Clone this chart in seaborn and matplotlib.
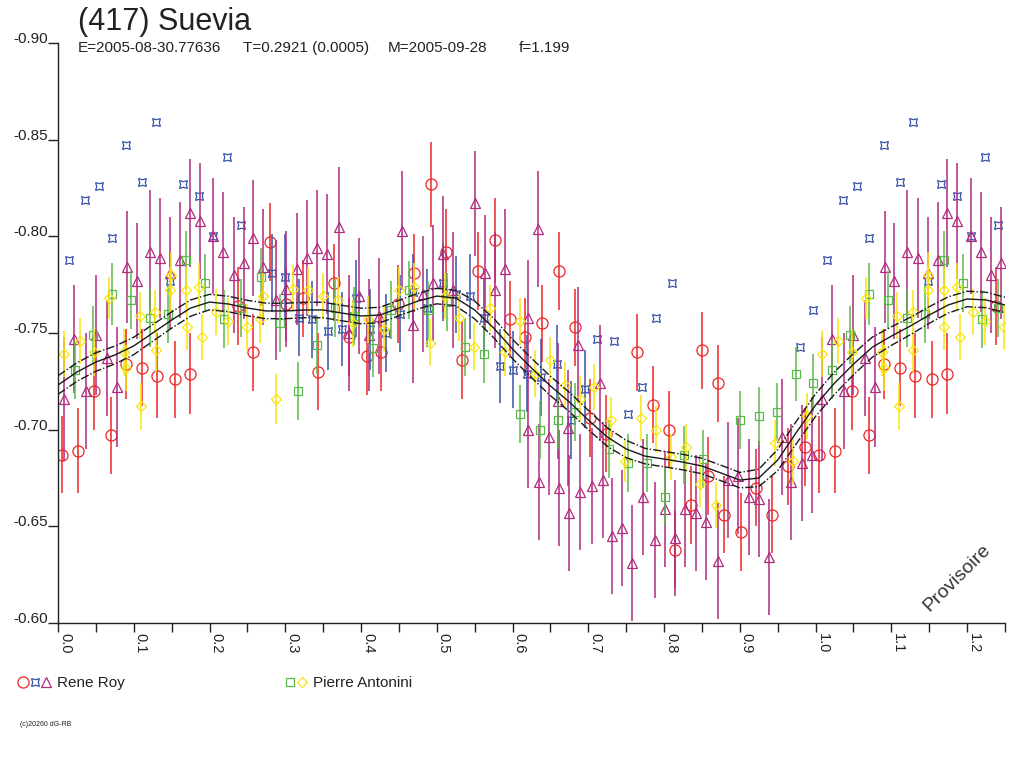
import numpy as np
import pandas as pd
import matplotlib
matplotlib.use('Agg')
import matplotlib.pyplot as plt
import seaborn as sns
from matplotlib.ticker import MultipleLocator, FormatStrFormatter
from matplotlib.lines import Line2D
from matplotlib.legend_handler import HandlerTuple

# --- Rene Roy, red circles
roy_o_phase = [0.005, 0.026, 0.048, 0.070, 0.090, 0.111, 0.131, 0.154, 0.174, 0.238,
               0.257, 0.280, 0.301, 0.323, 0.343, 0.364, 0.384, 0.408, 0.427, 0.449,
               0.470, 0.492, 0.512, 0.533, 0.554, 0.577, 0.596, 0.617, 0.639, 0.661,
               0.682, 0.702, 0.723, 0.764, 0.786, 0.807, 0.815, 0.836, 0.850, 0.858,
               0.871, 0.879, 0.901, 0.921, 0.942, 0.963, 0.986]
roy_o_mag = [-0.687, -0.689, -0.720, -0.697, -0.734, -0.732, -0.728, -0.726, -0.729, -0.764,
             -0.740, -0.797, -0.765, -0.768, -0.730, -0.776, -0.748, -0.738, -0.740, -0.765,
             -0.781, -0.827, -0.792, -0.736, -0.782, -0.798, -0.757, -0.748, -0.755, -0.782,
             -0.753, -0.706, -0.698, -0.740, -0.713, -0.700, -0.638, -0.661, -0.741, -0.676,
             -0.724, -0.656, -0.647, -0.670, -0.656, -0.681, -0.691]
roy_o_err = [0.020, 0.022, 0.020, 0.020, 0.018, 0.020, 0.022, 0.020, 0.021, 0.020,
             0.020, 0.020, 0.019, 0.020, 0.020, 0.020, 0.020, 0.020, 0.020, 0.020,
             0.020, 0.022, 0.022, 0.020, 0.020, 0.022, 0.020, 0.020, 0.020, 0.020,
             0.020, 0.020, 0.020, 0.020, 0.020, 0.020, 0.020, 0.020, 0.020, 0.020,
             0.020, 0.020, 0.020, 0.020, 0.020, 0.020, 0.020]

# --- Rene Roy, blue stars
roy_s_phase = [0.015, 0.036, 0.054, 0.071, 0.090, 0.111, 0.129, 0.148, 0.165, 0.186,
               0.205, 0.223, 0.241, 0.282, 0.300, 0.318, 0.335, 0.356, 0.375, 0.393,
               0.412, 0.433, 0.451, 0.468, 0.487, 0.508, 0.526, 0.544, 0.562, 0.583,
               0.600, 0.619, 0.637, 0.658, 0.677, 0.695, 0.712, 0.734, 0.752, 0.771,
               0.789, 0.810, 0.979, 0.996]
roy_s_mag = [-0.788, -0.819, -0.826, -0.799, -0.847, -0.828, -0.859, -0.777, -0.827, -0.821,
             -0.800, -0.841, -0.806, -0.781, -0.779, -0.758, -0.757, -0.751, -0.752, -0.768,
             -0.752, -0.750, -0.760, -0.771, -0.763, -0.776, -0.770, -0.769, -0.758, -0.733,
             -0.731, -0.729, -0.727, -0.734, -0.705, -0.721, -0.747, -0.746, -0.708, -0.722,
             -0.758, -0.776, -0.743, -0.762]
roy_s_err = [0.0, 0.0, 0.0, 0.0, 0.0, 0.0, 0.0, 0.0, 0.0, 0.0,
             0.0, 0.0, 0.0, 0.020, 0.022, 0.020, 0.020, 0.020, 0.019, 0.020,
             0.021, 0.020, 0.020, 0.020, 0.020, 0.020, 0.020, 0.022, 0.020, 0.019,
             0.020, 0.020, 0.020, 0.020, 0.020, 0.020, 0.0, 0.0, 0.0, 0.0,
             0.0, 0.0, 0.0, 0.0]

# --- Rene Roy, purple triangles
roy_t_phase = [0.008, 0.021, 0.037, 0.050, 0.065, 0.078, 0.091, 0.104, 0.121, 0.135,
               0.148, 0.161, 0.174, 0.187, 0.205, 0.218, 0.232, 0.245, 0.257, 0.270,
               0.288, 0.301, 0.315, 0.329, 0.342, 0.355, 0.371, 0.384, 0.397, 0.410,
               0.424, 0.454, 0.468, 0.482, 0.495, 0.508, 0.521, 0.550, 0.563, 0.577,
               0.590, 0.620, 0.621, 0.633, 0.635, 0.648, 0.661, 0.660, 0.673, 0.674,
               0.687, 0.689, 0.705, 0.716, 0.719, 0.731, 0.744, 0.757, 0.772, 0.788,
               0.801, 0.814, 0.827, 0.842, 0.855, 0.871, 0.885, 0.898, 0.912, 0.925,
               0.938, 0.955, 0.968, 0.982, 0.995]
roy_t_mag = [-0.716, -0.747, -0.720, -0.749, -0.737, -0.722, -0.784, -0.777, -0.792, -0.789,
             -0.781, -0.788, -0.812, -0.808, -0.800, -0.792, -0.780, -0.786, -0.799, -0.784,
             -0.767, -0.773, -0.783, -0.789, -0.794, -0.791, -0.805, -0.750, -0.769, -0.749,
             -0.759, -0.803, -0.754, -0.770, -0.776, -0.791, -0.772, -0.817, -0.781, -0.772,
             -0.783, -0.758, -0.700, -0.804, -0.673, -0.696, -0.670, -0.715, -0.701, -0.657,
             -0.744, -0.668, -0.671, -0.724, -0.674, -0.645, -0.649, -0.631, -0.665, -0.643,
             -0.659, -0.644, -0.659, -0.657, -0.652, -0.632, -0.674, -0.676, -0.665, -0.664,
             -0.634, -0.696, -0.673, -0.683, -0.687]
roy_t_err = [0.032, 0.028, 0.030, 0.031, 0.030, 0.031, 0.029, 0.030, 0.032, 0.031,
             0.029, 0.030, 0.028, 0.030, 0.030, 0.031, 0.030, 0.029, 0.030, 0.030,
             0.031, 0.030, 0.029, 0.030, 0.030, 0.031, 0.031, 0.030, 0.030, 0.029,
             0.030, 0.031, 0.030, 0.030, 0.030, 0.030, 0.030, 0.027, 0.030, 0.030,
             0.031, 0.030, 0.030, 0.030, 0.030, 0.030, 0.030, 0.030, 0.030, 0.030,
             0.030, 0.030, 0.030, 0.030, 0.030, 0.030, 0.030, 0.030, 0.030, 0.030,
             0.030, 0.030, 0.030, 0.030, 0.030, 0.030, 0.030, 0.030, 0.030, 0.030,
             0.030, 0.030, 0.030, 0.030, 0.030]

# --- Pierre Antonini, green squares
ant_q_phase = [0.022, 0.046, 0.071, 0.096, 0.121, 0.145, 0.169, 0.194, 0.219, 0.241,
               0.268, 0.293, 0.317, 0.342, 0.365, 0.391, 0.416, 0.439, 0.463, 0.489,
               0.513, 0.537, 0.562, 0.610, 0.636, 0.660, 0.683, 0.727, 0.753, 0.777,
               0.801, 0.826, 0.851, 0.900, 0.925, 0.949, 0.974, 0.997]
ant_q_mag = [-0.731, -0.749, -0.770, -0.767, -0.758, -0.760, -0.788, -0.776, -0.757, -0.763,
             -0.779, -0.755, -0.720, -0.744, -0.763, -0.759, -0.742, -0.762, -0.772, -0.762,
             -0.766, -0.743, -0.739, -0.708, -0.700, -0.705, -0.709, -0.690, -0.683, -0.683,
             -0.665, -0.687, -0.685, -0.705, -0.707, -0.709, -0.729, -0.724]
ant_q_err = [0.015, 0.015, 0.016, 0.015, 0.015, 0.015, 0.015, 0.015, 0.015, 0.015,
             0.015, 0.015, 0.015, 0.015, 0.015, 0.015, 0.015, 0.015, 0.015, 0.015,
             0.015, 0.015, 0.015, 0.015, 0.015, 0.015, 0.015, 0.015, 0.015, 0.015,
             0.015, 0.015, 0.015, 0.015, 0.015, 0.015, 0.014, 0.015]

# --- Pierre Antonini, yellow diamonds
ant_d_phase = [0.008, 0.029, 0.048, 0.067, 0.087, 0.090, 0.108, 0.110, 0.128, 0.129,
               0.148, 0.149, 0.169, 0.170, 0.186, 0.190, 0.208, 0.224, 0.249, 0.267,
               0.270, 0.288, 0.310, 0.330, 0.350, 0.369, 0.389, 0.409, 0.430, 0.450,
               0.470, 0.491, 0.511, 0.529, 0.549, 0.570, 0.590, 0.610, 0.629, 0.649,
               0.669, 0.689, 0.708, 0.730, 0.749, 0.769, 0.789, 0.809, 0.829, 0.848,
               0.868, 0.947, 0.970, 0.989]
ant_d_mag = [-0.739, -0.746, -0.740, -0.768, -0.740, -0.732, -0.759, -0.712, -0.761, -0.741,
             -0.772, -0.780, -0.772, -0.753, -0.774, -0.748, -0.761, -0.756, -0.753, -0.757,
             -0.769, -0.716, -0.773, -0.772, -0.769, -0.767, -0.755, -0.757, -0.752, -0.772,
             -0.774, -0.745, -0.769, -0.758, -0.743, -0.763, -0.740, -0.756, -0.729, -0.736,
             -0.723, -0.716, -0.722, -0.705, -0.684, -0.706, -0.700, -0.686, -0.691, -0.672,
             -0.661, -0.693, -0.684, -0.707]
ant_d_err = [0.012, 0.012, 0.012, 0.011, 0.012, 0.012, 0.012, 0.012, 0.011, 0.011,
             0.012, 0.012, 0.012, 0.012, 0.012, 0.012, 0.012, 0.012, 0.012, 0.012,
             0.012, 0.013, 0.012, 0.012, 0.012, 0.012, 0.012, 0.012, 0.012, 0.012,
             0.012, 0.012, 0.012, 0.012, 0.012, 0.012, 0.012, 0.012, 0.012, 0.012,
             0.012, 0.012, 0.012, 0.012, 0.011, 0.012, 0.012, 0.012, 0.012, 0.012,
             0.012, 0.012, 0.012, 0.012]

# --- fitted light curve and its envelope half-width
fit_phase = [0.000, 0.025, 0.050, 0.075, 0.100, 0.125, 0.150, 0.175, 0.200, 0.225,
             0.250, 0.275, 0.300, 0.325, 0.350, 0.375, 0.400, 0.425, 0.450, 0.475,
             0.500, 0.525, 0.550, 0.575, 0.600, 0.625, 0.650, 0.675, 0.700, 0.725,
             0.750, 0.775, 0.800, 0.825, 0.850, 0.875, 0.900, 0.925, 0.950, 0.975,
             1.000, 1.025, 1.050, 1.075, 1.100, 1.125, 1.150, 1.175, 1.200, 1.225, 1.250]
fit_mag = [-0.7231, -0.7298, -0.7350, -0.7386, -0.7433, -0.7500, -0.7567, -0.7629, -0.7660, -0.7650,
           -0.7629, -0.7614, -0.7614, -0.7619, -0.7619, -0.7603, -0.7588, -0.7593, -0.7629, -0.7665,
           -0.7691, -0.7681, -0.7619, -0.7526, -0.7417, -0.7319, -0.7226, -0.7143, -0.7050, -0.6962,
           -0.6900, -0.6863, -0.6848, -0.6832, -0.6812, -0.6776, -0.6739, -0.6750, -0.6843, -0.6988,
           -0.7127, -0.7241, -0.7339, -0.7427, -0.7484, -0.7536, -0.7593, -0.7645, -0.7676, -0.7671, -0.7645]
fit_sig = [0.0048, 0.0048, 0.0048, 0.0046, 0.0045, 0.0043, 0.0042, 0.0042, 0.0040, 0.0040,
           0.0040, 0.0040, 0.0040, 0.0040, 0.0040, 0.0040, 0.0040, 0.0040, 0.0040, 0.0040,
           0.0040, 0.0040, 0.0046, 0.0050, 0.0050, 0.0050, 0.0050, 0.0050, 0.0050, 0.0048,
           0.0045, 0.0040, 0.0040, 0.0040, 0.0040, 0.0040, 0.0040, 0.0045, 0.0055, 0.0058,
           0.0058, 0.0058, 0.0055, 0.0052, 0.0048, 0.0045, 0.0043, 0.0042, 0.0040, 0.0040, 0.0040]

title = '(417) Suevia'
info = ['E=2005-08-30.77636', 'T=0.2921 (0.0005)', 'M=2005-09-28', 'f=1.199']
observers = ['Rene Roy', 'Pierre Antonini']

RED, BLUE, PURPLE, GREEN, YELLOW = '#ee2626', '#3a52a8', '#b02a7e', '#5cb84c', '#f8e60a'
STAR = (4, 1, 45)

sns.set_theme(style='white')
plt.rcParams['font.family'] = ['Liberation Sans', 'DejaVu Sans']
plt.rcParams['axes.unicode_minus'] = False
plt.rcParams['text.color'] = '#222222'


def wrap(ph, mag, err):
    df = pd.DataFrame({'phase': ph, 'mag': mag, 'err': err})
    extra = df[df.phase < 0.25].copy()
    extra['phase'] += 1.0
    return pd.concat([df, extra], ignore_index=True)


fig = plt.figure(figsize=(10.24, 7.68), dpi=100)
ax = fig.add_axes([58 / 1024, 1 - 623 / 768, 947 / 1024, 580 / 768])

series = [
    (roy_o_phase, roy_o_mag, roy_o_err, 'o', 8, RED),
    (roy_s_phase, roy_s_mag, roy_s_err, STAR, 8, BLUE),
    (roy_t_phase, roy_t_mag, roy_t_err, '^', 7, PURPLE),
    (ant_q_phase, ant_q_mag, ant_q_err, 's', 5.5, GREEN),
    (ant_d_phase, ant_d_mag, ant_d_err, 'D', 5.6, YELLOW),
]
for ph, mg, er, mk, ms, col in series:
    d = wrap(ph, mg, er)
    ax.errorbar(d.phase, d.mag, yerr=d.err, fmt='none', ecolor=col, elinewidth=1.1, capsize=0)
    ax.plot(d.phase, d.mag, ls='none', marker=mk, ms=ms, mfc='none', mec=col, mew=0.9)

fit = pd.DataFrame({'phase': fit_phase, 'mag': fit_mag, 'sig': fit_sig})
fit['lo'] = fit['mag'] - fit['sig']
fit['hi'] = fit['mag'] + fit['sig']
sns.lineplot(data=fit, x='phase', y='mag', color='#1a1a1a', lw=1.0, ax=ax, zorder=6)
for col in ['lo', 'hi']:
    sns.lineplot(data=fit, x='phase', y=col, color='#1a1a1a', lw=1.0,
                 linestyle=(0, (6, 1.5, 1, 1.5)), ax=ax, zorder=6)

ax.set_xlim(0, 1.25)
ax.set_ylim(-0.60, -0.90)
ax.set_xlabel('')
ax.set_ylabel('')
ax.xaxis.set_major_locator(MultipleLocator(0.1))
ax.xaxis.set_minor_locator(MultipleLocator(0.05))
ax.xaxis.set_major_formatter(FormatStrFormatter('%.1f'))
ax.yaxis.set_major_locator(MultipleLocator(0.05))
ax.yaxis.set_major_formatter(FormatStrFormatter('%.2f'))
sns.despine(ax=ax)
for s in ['left', 'bottom']:
    ax.spines[s].set_color('#222222')
    ax.spines[s].set_linewidth(1.0)
ax.tick_params(axis='y', which='major', direction='out', length=7, width=1,
               color='#222222', labelsize=11, labelcolor='#222222', pad=0, left=True)
ax.tick_params(axis='x', which='both', direction='out', length=6.5, width=1,
               color='#222222', labelsize=10.5, labelcolor='#222222', pad=1,
               labelrotation=270, bottom=True)
for lbl in ax.get_xticklabels():
    lbl.set_ha('left')
    lbl.set_va('top')
for lbl in ax.get_yticklabels():
    lbl.set_va('baseline')

fig.text(78 / 1024, 1 - 22 / 768, title, fontsize=22, ha='left', va='center')
for x_px, txt in zip([78, 243, 388, 519], info):
    fig.text(x_px / 1024, 1 - 48 / 768, txt, fontsize=11, ha='left', va='center')
fig.text(957 / 1024, 1 - 578 / 768, 'Provisoire', rotation=45, fontsize=14,
         ha='center', va='center', color='#333333')
fig.text(20 / 1024, 1 - 725 / 768, '(c)20260 dG-RB', fontsize=5, ha='left', va='center')


def handle(mk, ms, col):
    return Line2D([], [], ls='none', marker=mk, ms=ms, mfc='none', mec=col, mew=0.9)


h_roy = (handle('o', 8, RED), handle(STAR, 8, BLUE), handle('^', 7, PURPLE))
h_ant = (handle('s', 5.5, GREEN), handle('D', 5.6, YELLOW))
fs_px = 11 * 100 / 72
for h, lab, x0 in [(h_roy, observers[0], 17.25), (h_ant, observers[1], 284.25)]:
    fig.legend([h], [lab], handler_map={tuple: HandlerTuple(ndivide=None, pad=0)},
               loc='center left', bbox_to_anchor=(x0 / 1024, 1 - 683 / 768),
               frameon=False, fontsize=11, handlelength=11.5 * len(h) / fs_px,
               handletextpad=0.35, borderpad=0, borderaxespad=0)

fig.savefig('out.png', dpi=100, facecolor='white')
